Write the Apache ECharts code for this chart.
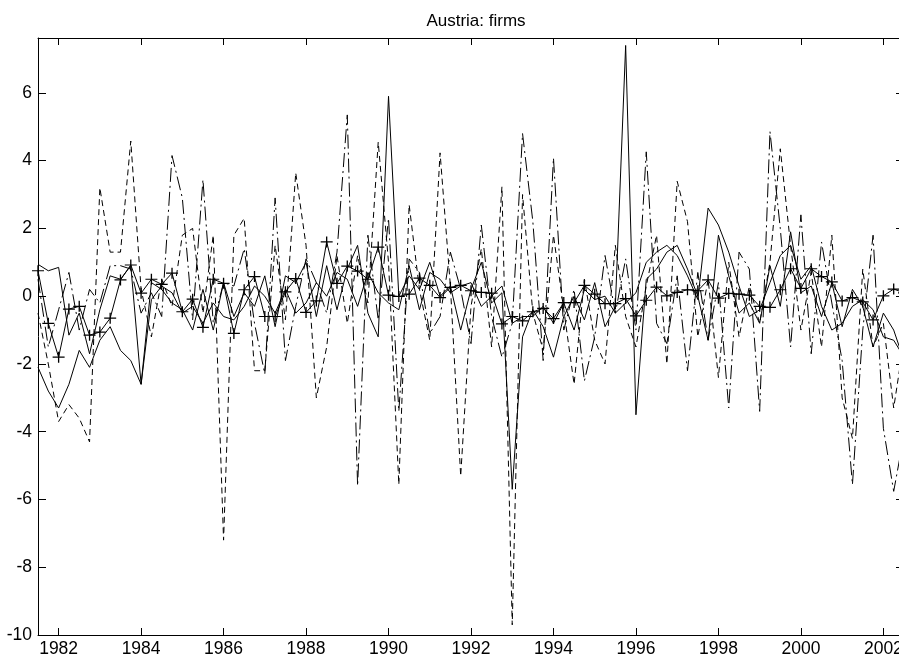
<!DOCTYPE html>
<html>
<head>
<meta charset="utf-8">
<script src="https://cdn.jsdelivr.net/npm/echarts@6/dist/echarts.min.js"></script>
<style>
  html, body { margin: 0; padding: 0; background: #fff; overflow: hidden; width: 899px; height: 658px; }
  #chart { width: 912px; height: 658px; }
</style>
</head>
<body>
<div id="chart"></div>
<script>
// Quarterly observations, first one at 1981.5 (mid-1981), 85 quarters
const startYear = 1981.5;
const quarterStep = 0.25;
const xTicks = [1982, 1984, 1986, 1988, 1990, 1992, 1994, 1996, 1998, 2000, 2002];
const yTicks = [-10, -8, -6, -4, -2, 0, 2, 4, 6];

// solid line with "+" markers
const seriesPlus = [0.75, -0.8, -1.8, -0.38, -0.3, -1.15, -1.06, -0.65, 0.48, 0.92,
  0.09, 0.5, 0.35, 0.68, -0.46, -0.09, -0.92, 0.5, 0.38, -1.1,
  0.19, 0.58, -0.6, -0.6, 0.13, 0.52, -0.48, -0.14, 1.6, 0.38,
  0.89, 0.74, 0.5, 1.45, 0.03, -0.01, 0.06, 0.53, 0.32, -0.04,
  0.26, 0.32, 0.16, 0.11, 0.09, -0.82, -0.6, -0.73, -0.46, -0.36,
  -0.66, -0.19, -0.19, 0.32, 0.06, -0.22, -0.22, -0.07, -0.58, -0.12,
  0.27, 0.01, 0.11, 0.19, 0.16, 0.48, -0.06, 0.08, 0.06, 0.03,
  -0.3, -0.33, 0.19, 0.81, 0.23, 0.81, 0.58, 0.42, -0.14, -0.04,
  -0.17, -0.7, 0.01, 0.21, 0.1];

// plain solid line (spiky)
const seriesSolidA = [0.94, 0.75, 0.85, -1.15, -0.5, -1.7, -0.4, 0.6, 0.5, 0.9,
  -2.6, 0.4, 0.2, -0.2, -0.4, -1.0, 0.2, -1.0, 0.4, -0.6,
  0.1, -0.3, 0.6, -0.9, 0.6, 0.4, 1.0, -0.6, 0.9, -0.4,
  0.8, 1.5, -0.5, -1.2, 5.9, 0.0, 0.6, 0.2, 1.0, 0.0,
  0.3, -1.0, 0.2, 1.0, -0.2, 0.1, -5.7, -1.2, -0.4, -0.9,
  -1.8, -0.6, 0.0, -0.7, 0.4, -0.9, -0.3, 7.4, -3.5, 0.5,
  0.8, 1.3, 1.5, 0.8, 0.0, -1.3, 1.8, 0.6, -0.5, -0.2,
  -0.8, 0.9, -0.3, 1.9, 0.1, 0.3, -0.6, 0.4, -0.9, 0.2,
  -0.3, -1.5, -0.5, -1.0, -1.9];

// second plain solid line (smoother)
const seriesSolidB = [-2.1, -2.8, -3.3, -2.6, -1.6, -2.1, -1.3, -0.9, -1.6, -1.9,
  -2.6, -0.1, 0.3, 0.1, -0.5, -0.3, -0.8, -0.2, -0.6, -0.7,
  -0.3, 0.3, 0.0, -0.5, 0.2, -0.5, -0.2, 0.4, 0.0, 0.7,
  0.5, -0.3, 0.7, 0.1, -0.2, -0.4, 0.9, -0.4, 0.7, 0.5,
  0.1, 0.3, 0.4, -0.3, 0.0, 0.3, -0.8, -0.6, -0.6, -0.3,
  -0.8, -0.2, -1.0, 0.2, -0.1, 0.0, -0.5, -0.2, 0.1, 1.0,
  1.3, 1.5, 1.2, 0.6, -0.1, 2.6, 2.1, 1.3, 0.3, -0.6,
  -0.4, 0.4, 1.2, 1.5, 0.5, 0.9, -0.3, -1.0, -0.8, -0.3,
  -0.1, -0.4, -1.2, -1.3, -1.8];

// short-dashed line
const seriesDashed = [-0.5, -2.0, -3.7, -3.2, -3.6, -4.3, 3.2, 1.3, 1.3, 4.58,
  0.2, -1.2, 0.5, -0.3, 1.8, 2.0, -0.5, 1.8, -7.2, 1.8,
  2.3, -2.2, -2.2, 1.5, -0.7, 3.64, 1.5, -3.0, -1.5, 1.2,
  -0.8, 1.2, -0.2, 4.55, 1.0, -5.56, 2.7, 0.2, -1.3, 4.23,
  0.3, -5.31, -0.3, 1.4, -1.5, 3.23, -9.7, 3.0, -0.5, -1.6,
  1.8, -0.4, -2.6, 0.5, -1.3, -2.0, 1.5, -0.6, -1.5, 0.3,
  1.8, -2.0, 3.39, 2.2, -1.2, 0.5, -2.4, 1.0, -1.2, 0.3,
  -0.8, 1.0, 4.35, 1.5, -1.0, 0.7, -1.5, 1.8, -3.0, -4.2,
  0.8, -1.5, -0.8, -3.3, -1.3];

// long-dash / dash-dot line
const seriesDashDot = [0.5, -1.5, -0.4, 0.7, -1.0, 0.2, -0.2, 0.9, 0.9, 0.8,
  -0.5, 0.1, -0.6, 4.15, 2.9, -0.7, 3.44, -0.8, 0.4, 0.3,
  1.4, -0.8, -2.3, 2.9, -1.9, -0.3, 1.1, 0.4, -0.5, 1.3,
  5.35, -5.6, 1.8, -0.7, 2.3, -3.4, 1.1, 0.7, -1.1, -0.6,
  1.3, 0.2, -1.4, 2.1, -0.6, -1.8, -0.8, 4.8, 2.2, -1.9,
  4.08, -1.0, 0.2, -2.5, -1.2, 1.2, -0.5, 1.1, -1.0, 4.26,
  -0.8, -1.4, 0.6, -2.2, 0.7, -1.3, 0.4, -3.3, 1.3, 0.8,
  -3.4, 4.86, 2.0, -1.5, 2.4, -1.7, 1.6, -0.2, -1.9, -5.56,
  -1.0, 1.8, -3.9, -5.76, -4.1];

function toPairs(values) {
  return values.map((v, i) => [startYear + i * quarterStep, v]);
}

const chart = echarts.init(document.getElementById('chart'), null, { renderer: 'canvas', width: 912, height: 658 });
const FONT = 'Liberation Sans, Arial, Helvetica, sans-serif';
const plusPath = 'path://M0,4.45H10V5.55H0Z M4.45,0H5.55V10H4.45Z';

function lineSeries(name, values, type, extra) {
  return Object.assign({
    name: name,
    type: 'line',
    data: toPairs(values),
    showSymbol: false,
    symbol: 'none',
    animation: false,
    silent: true,
    lineStyle: { color: '#000', width: 1, type: type },
    clip: true
  }, extra || {});
}

const axisCommon = {
  type: 'value',
  axisLine: { show: true, onZero: false, lineStyle: { color: '#000', width: 1 } },
  splitLine: { show: false }
};

chart.setOption({
  animation: false,
  backgroundColor: '#fff',
  title: {
    text: 'Austria: firms',
    left: 471,
    textAlign: 'center',
    top: 8,
    textStyle: { fontFamily: FONT, fontSize: 17, fontWeight: 'normal', color: '#000' }
  },
  grid: { left: 38, top: 38, width: 866, height: 599, containLabel: false },
  xAxis: [
    Object.assign({}, axisCommon, {
      min: 1981.5, max: 2002.5, position: 'bottom',
      axisTick: { show: true, inside: true, length: 7, lineStyle: { color: '#000' }, customValues: xTicks },
      axisLabel: { show: true, customValues: xTicks, margin: 5, color: '#000', fontFamily: FONT, fontSize: 17.5,
        formatter: v => String(Math.round(v)) }
    }),
    Object.assign({}, axisCommon, {
      min: 1981.5, max: 2002.5, position: 'top',
      axisTick: { show: true, inside: true, length: 7, lineStyle: { color: '#000' }, customValues: xTicks },
      axisLabel: { show: false }
    })
  ],
  yAxis: [
    Object.assign({}, axisCommon, {
      min: -10, max: 7.62, position: 'left',
      axisTick: { show: true, inside: true, length: 8, lineStyle: { color: '#000' }, customValues: yTicks },
      axisLabel: { show: true, customValues: yTicks, margin: 6, color: '#000', fontFamily: FONT, fontSize: 17.5 }
    }),
    Object.assign({}, axisCommon, {
      min: -10, max: 7.62, position: 'right',
      axisTick: { show: true, inside: true, length: 8, lineStyle: { color: '#000' }, customValues: yTicks },
      axisLabel: { show: false }
    })
  ],
  series: [
    lineSeries('dashdot', seriesDashDot, [14, 4, 2, 4]),
    lineSeries('dashed', seriesDashed, [6, 4]),
    lineSeries('solidB', seriesSolidB, 'solid'),
    lineSeries('solidA', seriesSolidA, 'solid'),
    lineSeries('plus', seriesPlus, 'solid', {
      showSymbol: true,
      symbol: plusPath,
      symbolSize: [12, 11],
      itemStyle: { color: '#000' }
    })
  ]
});
</script>
</body>
</html>
